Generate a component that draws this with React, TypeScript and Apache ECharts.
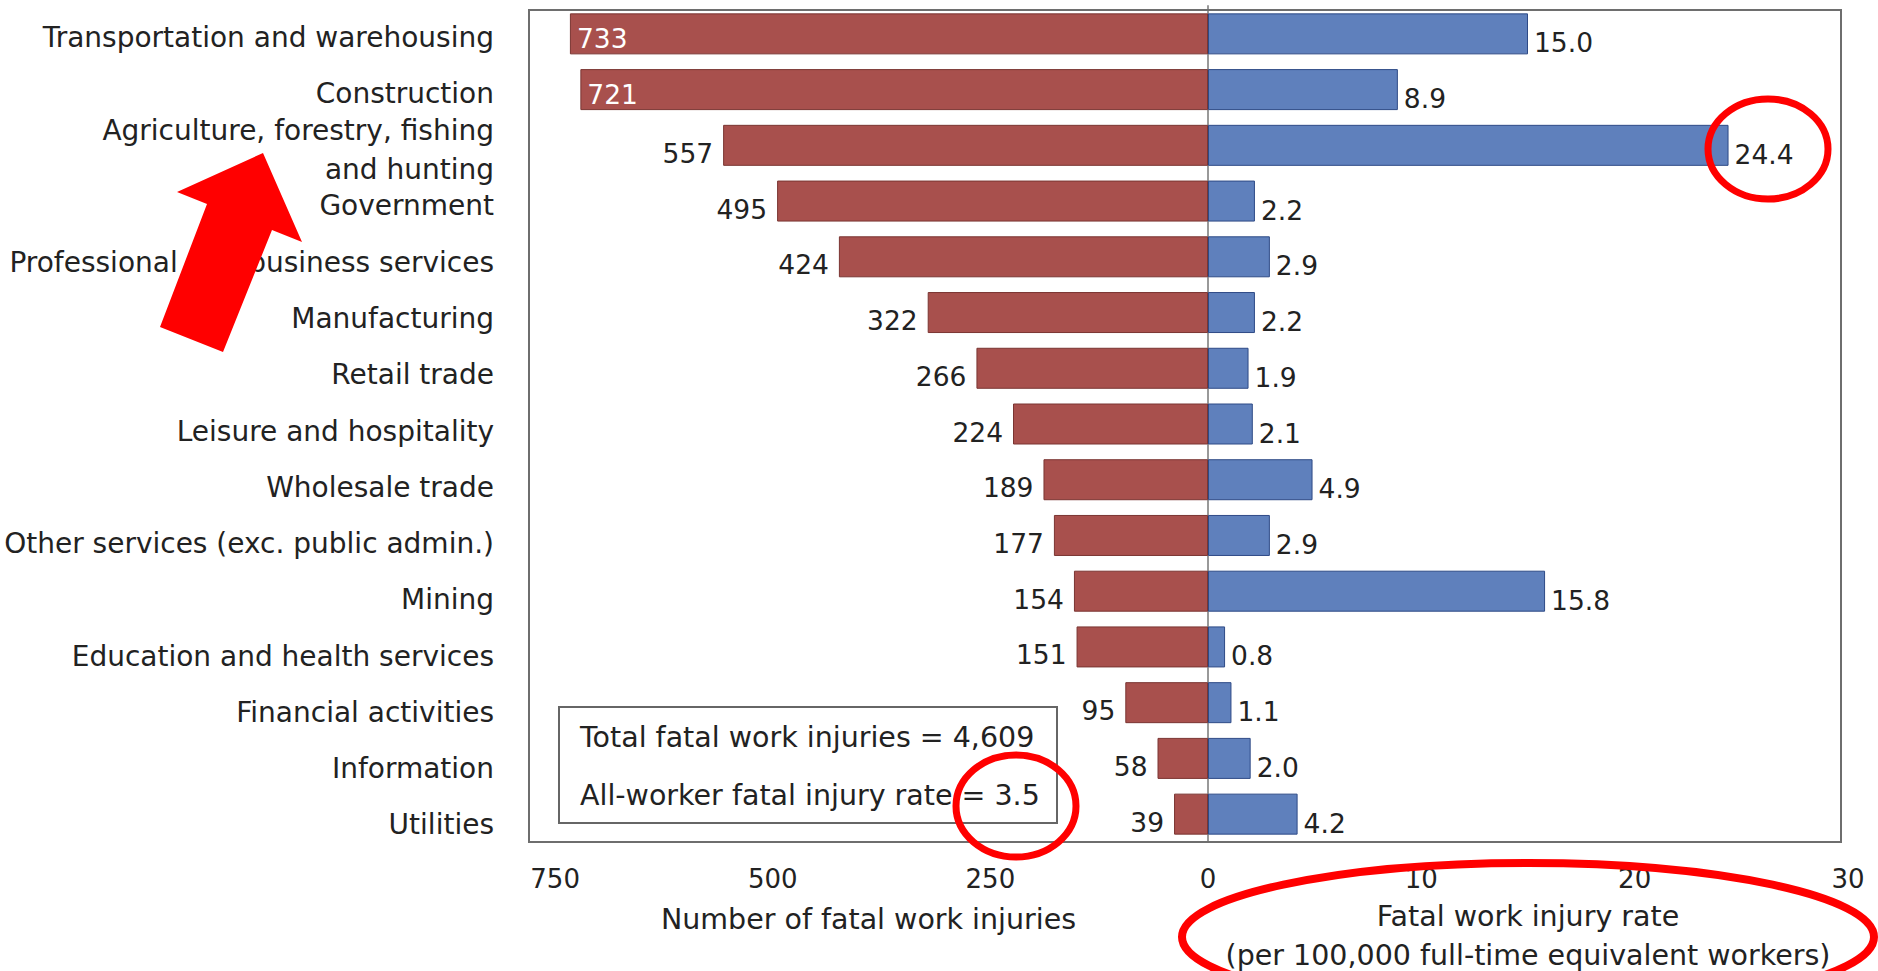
import React, { useEffect, useRef } from "react";
import * as echarts from "echarts";

const categories = [
  "Transportation and warehousing",
  "Construction",
  "Agriculture, forestry, fishing\nand hunting",
  "Government",
  "Professional and business services",
  "Manufacturing",
  "Retail trade",
  "Leisure and hospitality",
  "Wholesale trade",
  "Other services (exc. public admin.)",
  "Mining",
  "Education and health services",
  "Financial activities",
  "Information",
  "Utilities",
];
const fatalInjuries = [733, 721, 557, 495, 424, 322, 266, 224, 189, 177, 154, 151, 95, 58, 39];
const injuryRates = [15.0, 8.9, 24.4, 2.2, 2.9, 2.2, 1.9, 2.1, 4.9, 2.9, 15.8, 0.8, 1.1, 2.0, 4.2];
const injuryTicks = [250, 500, 750];
const rateTicks = [0, 10, 20, 30];
const totalInjuries = "4,609";
const allWorkerRate = 3.5;

const FONT = "DejaVu Sans";
const TXT = "#222";

export default function App() {
  const ref = useRef<HTMLDivElement>(null);
  useEffect(() => {
    document.body.style.margin = "0";
    const chart = echarts.init(ref.current!, null, { renderer: "svg" });
    const option: any = {
      animation: false,
      backgroundColor: "#fff",
      grid: [
        { left: 529, top: 6, width: 679, height: 836, outerBoundsMode: "none", containLabel: false },
        { left: 1208, top: 6, width: 640, height: 836, outerBoundsMode: "none", containLabel: false },
        { left: 529, top: 9, width: 10, height: 844, outerBoundsMode: "none", containLabel: false },
      ],
      xAxis: [
        {
          gridIndex: 0,
          type: "value",
          inverse: true,
          min: 0,
          max: 780,
          interval: 250,
          axisLine: { show: false },
          axisTick: { show: false },
          splitLine: { show: false },
          axisLabel: {
            fontSize: 26,
            color: TXT,
            fontFamily: FONT,
            margin: 24,
            formatter: (v: number) => (injuryTicks.includes(v) ? String(v) : ""),
          },
          name: "Number of fatal work injuries",
          nameLocation: "middle",
          nameGap: 63,
          nameTextStyle: { fontSize: 28.5, color: TXT, fontFamily: FONT, verticalAlign: "top", padding: 0 },
        },
        {
          gridIndex: 1,
          type: "value",
          min: 0,
          max: 30,
          interval: 10,
          axisLine: { show: false },
          axisTick: { show: false },
          splitLine: { show: false },
          axisLabel: {
            fontSize: 26,
            color: TXT,
            fontFamily: FONT,
            margin: 24,
            formatter: (v: number) => (rateTicks.includes(v) ? String(v) : ""),
          },
          name: "Fatal work injury rate\n(per 100,000 full-time equivalent workers)",
          nameLocation: "middle",
          nameGap: 52,
          nameTextStyle: {
            fontSize: 28.5,
            color: TXT,
            fontFamily: FONT,
            lineHeight: 39,
            verticalAlign: "top",
            padding: 0,
          },
        },
        { gridIndex: 2, type: "value", show: false },
      ],
      yAxis: [
        {
          gridIndex: 0,
          type: "category",
          data: categories,
          inverse: true,
          axisLine: { show: false },
          axisTick: { show: false },
          axisLabel: { show: false },
        },
        {
          gridIndex: 1,
          type: "category",
          data: categories,
          inverse: true,
          position: "left",
          axisLine: { show: true, onZero: false, lineStyle: { color: "#999", width: 2 } },
          axisTick: { show: false },
          axisLabel: { show: false },
        },
        {
          gridIndex: 2,
          type: "category",
          data: categories,
          inverse: true,
          axisLine: { show: false },
          axisTick: { show: false },
          axisLabel: {
            fontSize: 28,
            color: TXT,
            fontFamily: FONT,
            margin: 35,
            lineHeight: 39,
          },
        },
      ],
      series: [
        {
          type: "bar",
          xAxisIndex: 0,
          yAxisIndex: 0,
          barWidth: 41,
          data: fatalInjuries.map((v) =>
            v > 700
              ? { value: v, label: { position: "insideLeft", color: "#fff", distance: 7, offset: [0, 5] } }
              : { value: v }
          ),
          itemStyle: { color: "#A8504D", borderColor: "#7A3532", borderWidth: 1 },
          label: {
            show: true,
            position: "left",
            distance: 10,
            offset: [0, 8],
            fontSize: 26.5,
            color: TXT,
            fontFamily: FONT,
          },
        },
        {
          type: "bar",
          xAxisIndex: 1,
          yAxisIndex: 1,
          barWidth: 41,
          data: injuryRates,
          itemStyle: { color: "#5F80BC", borderColor: "#2E4A86", borderWidth: 1 },
          label: {
            show: true,
            position: "right",
            distance: 6,
            offset: [0, 9],
            fontSize: 26.5,
            color: TXT,
            fontFamily: FONT,
            formatter: (p: any) => Number(p.value).toFixed(1),
          },
        },
      ],
      graphic: [
        {
          type: "rect",
          z: 1,
          shape: { x: 529, y: 10, width: 1312, height: 832 },
          style: { fill: "none", stroke: "#6e6e6e", lineWidth: 2 },
          silent: true,
        },
        {
          type: "rect",
          z: 50,
          shape: { x: 559, y: 707, width: 498, height: 116 },
          style: { fill: "#fff", stroke: "#666", lineWidth: 2 },
        },
        {
          type: "text",
          z: 51,
          x: 580,
          y: 737,
          style: {
            text: "Total fatal work injuries = " + totalInjuries,
            fontSize: 28.5,
            fontFamily: FONT,
            fill: TXT,
            verticalAlign: "middle",
          },
        },
        {
          type: "text",
          z: 51,
          x: 580,
          y: 795,
          style: {
            text: "All-worker fatal injury rate = " + allWorkerRate.toFixed(1),
            fontSize: 28.5,
            fontFamily: FONT,
            fill: TXT,
            verticalAlign: "middle",
          },
        },
        {
          type: "polygon",
          z: 100,
          shape: {
            points: [
              [263, 153],
              [302, 242],
              [272, 230],
              [223, 352],
              [160, 327],
              [207, 204],
              [177, 192],
            ],
          },
          style: { fill: "#FF0000" },
        },
        {
          type: "ellipse",
          z: 100,
          shape: { cx: 1768, cy: 149, rx: 60, ry: 50 },
          style: { fill: "none", stroke: "#FF0000", lineWidth: 7 },
        },
        {
          type: "ellipse",
          z: 100,
          shape: { cx: 1016, cy: 806, rx: 60, ry: 51 },
          style: { fill: "none", stroke: "#FF0000", lineWidth: 7 },
        },
        {
          type: "ellipse",
          z: 100,
          shape: { cx: 1528, cy: 937, rx: 346, ry: 74 },
          style: { fill: "none", stroke: "#FF0000", lineWidth: 8 },
        },
      ],
    };
    chart.setOption(option);
    return () => chart.dispose();
  }, []);
  return <div ref={ref} style={{ width: 1878, height: 971 }} />;
}
